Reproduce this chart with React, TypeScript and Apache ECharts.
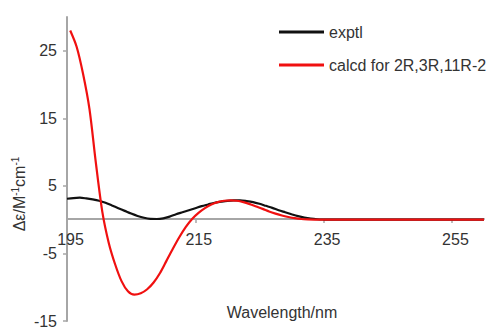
import React, { useEffect, useRef } from "react";
import * as echarts from "echarts";

const exptlWavelength = [195, 196, 197, 198, 199, 200, 201, 202, 203, 204, 205, 206, 207, 208, 209, 210, 211, 212, 213, 214, 215, 216, 217, 218, 219, 220, 221, 222, 223, 224, 225, 226, 227, 228, 229, 230, 231, 232, 233, 234, 235, 236, 237, 240, 245, 250, 255, 260];
const exptlValues = [3.1, 3.2, 3.25, 3.15, 3.0, 2.8, 2.5, 2.1, 1.7, 1.3, 0.9, 0.55, 0.28, 0.12, 0.1, 0.2, 0.45, 0.8, 1.1, 1.4, 1.7, 2.0, 2.25, 2.5, 2.65, 2.78, 2.85, 2.85, 2.75, 2.6, 2.35, 2.05, 1.75, 1.4, 1.1, 0.8, 0.52, 0.3, 0.15, 0.06, 0.02, 0, 0, 0, 0, 0, 0, 0];

const calcdWavelength = [195.5, 196.5, 197.5, 198.5, 199.5, 200.5, 201.5, 202.5, 203.5, 204.5, 205.5, 206.5, 207.5, 208.5, 209.5, 210.5, 211.5, 212.5, 213.5, 214.5, 215.5, 216.5, 217.5, 218.5, 219.5, 220.5, 221.5, 222.5, 223.5, 224.5, 225.5, 226.5, 227.5, 228.5, 229.5, 230.5, 231.5, 232.5, 233.5, 234.5, 235.5, 236.5, 240, 245, 250, 255, 260];
const calcdValues = [28, 25.6, 21.6, 16.4, 8.4, 1.2, -3.4, -6.6, -9.1, -10.6, -11.1, -10.9, -10.3, -9.3, -7.9, -6.1, -4.3, -2.6, -1.1, 0.1, 1.0, 1.7, 2.25, 2.6, 2.8, 2.87, 2.8, 2.6, 2.3, 1.95, 1.6, 1.22, 0.9, 0.62, 0.4, 0.22, 0.1, 0.04, 0.01, 0, 0, 0, 0, 0, 0, 0, 0];

const xTicks = [195, 215, 235, 255];
const yTicks = [-15, -5, 5, 15, 25];
const seriesNames = ["exptl", "calcd for 2R,3R,11R-2"];

const FONT = "'Liberation Sans', Arial, sans-serif";
const TEXT = "#333333";
const AXIS = "#a6a6a6";
const BLACK = "#111111";
const RED = "#f01010";

export default function App() {
  const ref = useRef<HTMLDivElement>(null);
  useEffect(() => {
    if (!ref.current) return;
    const chart = echarts.init(ref.current, null, { renderer: "svg" });
    const pair = (xs: number[], ys: number[]) => xs.map((x, i) => [x, ys[i]]);
    chart.setOption({
      animation: false,
      backgroundColor: "#ffffff",
      grid: { left: 67, right: 4, top: 17, bottom: 6, containLabel: false },
      legend: {
        orient: "vertical",
        left: 279,
        top: 24,
        padding: 0,
        icon: "rect",
        itemWidth: 45,
        itemHeight: 3,
        itemGap: 17,
        textStyle: { fontFamily: FONT, fontSize: 16, lineHeight: 16, color: TEXT },
        data: [
          { name: seriesNames[0], itemStyle: { color: BLACK } },
          { name: seriesNames[1], itemStyle: { color: RED } },
        ],
      },
      xAxis: {
        type: "value",
        min: 195,
        max: 260,
        interval: 20,
        position: "bottom",
        offset: -102,
        axisLine: { onZero: false, lineStyle: { color: AXIS, width: 2 } },
        axisTick: { show: true, length: 4, customValues: xTicks, lineStyle: { color: AXIS, width: 1.5 } },
        axisLabel: {
          customValues: xTicks,
          fontFamily: FONT,
          fontSize: 16,
          color: TEXT,
          margin: 12,
          padding: [0, 0, 0, 7],
        },
        splitLine: { show: false },
      },
      yAxis: {
        type: "value",
        min: -15,
        max: 30,
        interval: 10,
        axisLine: { show: true, onZero: false, lineStyle: { color: AXIS, width: 2 } },
        axisTick: { show: true, length: 4, customValues: yTicks, lineStyle: { color: AXIS, width: 1.5 } },
        axisLabel: {
          customValues: yTicks,
          fontFamily: FONT,
          fontSize: 16,
          color: TEXT,
          margin: 10,
        },
        splitLine: { show: false },
      },
      graphic: [
        {
          type: "text",
          x: 19,
          y: 194,
          rotation: Math.PI / 2,
          style: {
            text: "{a|Δε/M}{s|-1}{a|cm}{s|-1}",
            align: "center",
            verticalAlign: "middle",
            fill: TEXT,
            rich: {
              a: { fontFamily: FONT, fontSize: 16, fill: TEXT, color: TEXT },
              s: { fontFamily: FONT, fontSize: 10, fill: TEXT, color: TEXT, verticalAlign: "top", padding: [0, 0, 8, 0] },
            },
          },
        },
        {
          type: "text",
          x: 282,
          y: 312,
          style: {
            text: "Wavelength/nm",
            align: "center",
            verticalAlign: "middle",
            fontFamily: FONT,
            fontSize: 16,
            fill: TEXT,
          },
        },
      ],
      series: [
        {
          name: seriesNames[0],
          type: "line",
          smooth: 0.3,
          symbol: "none",
          data: pair(exptlWavelength, exptlValues),
          lineStyle: { color: BLACK, width: 2.2 },
          itemStyle: { color: BLACK },
          z: 3,
        },
        {
          name: seriesNames[1],
          type: "line",
          smooth: 0.3,
          symbol: "none",
          data: pair(calcdWavelength, calcdValues),
          lineStyle: { color: RED, width: 2.2 },
          itemStyle: { color: RED },
          z: 4,
        },
      ],
    });
    return () => chart.dispose();
  }, []);
  return <div ref={ref} style={{ width: 488, height: 329, position: "absolute", left: 0, top: 0 }} />;
}
